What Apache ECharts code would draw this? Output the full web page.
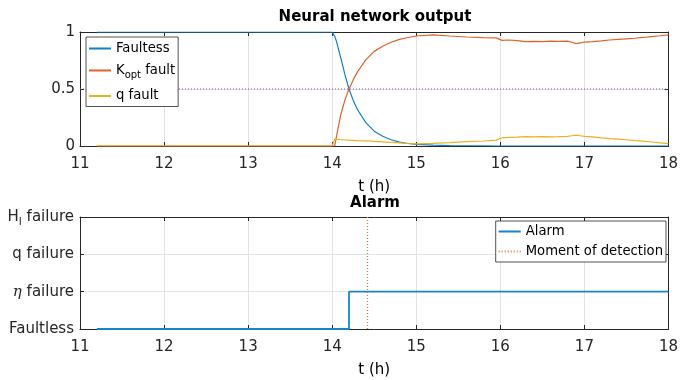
<!DOCTYPE html>
<html>
<head>
<meta charset="utf-8">
<script src="https://cdn.jsdelivr.net/npm/echarts@6/dist/echarts.min.js"></script>
<style>
  html, body { margin: 0; padding: 0; background: #fff; }
  #chart { width: 681px; height: 380px; }
</style>
</head>
<body>
<div id="chart"></div>
<script>
  // neural network outputs
  const nnTime = [11.2, 14.0, 14.03, 14.05, 14.1, 14.15, 14.2, 14.25, 14.3, 14.4,
    14.5, 14.6, 14.7, 14.8, 14.9, 15.0, 15.2, 15.4, 15.6, 15.8,
    15.95, 16.02, 16.1, 16.2, 16.3, 16.4, 16.5, 16.6, 16.7, 16.8,
    16.85, 16.9, 16.95, 17.0, 17.1, 17.2, 17.3, 17.4, 17.5, 17.6,
    17.7, 17.8, 17.9, 18.0];
  const faultless = [1, 1, 0.96, 0.92, 0.78, 0.63, 0.5, 0.4, 0.32, 0.205,
    0.13, 0.085, 0.055, 0.034, 0.022, 0.015, 0.007, 0.004, 0.002, 0.001,
    0, 0, 0, 0, 0, 0, 0, 0, 0, 0,
    0, 0, 0, 0, 0, 0, 0, 0, 0, 0,
    0, 0, 0, 0];
  const kOptFault = [0, 0, 0, 0.08, 0.27, 0.4, 0.5, 0.58, 0.65, 0.755,
    0.83, 0.875, 0.91, 0.935, 0.952, 0.965, 0.975, 0.965, 0.956, 0.95,
    0.948, 0.927, 0.93, 0.925, 0.915, 0.918, 0.915, 0.92, 0.918, 0.92,
    0.91, 0.898, 0.905, 0.912, 0.915, 0.922, 0.93, 0.935, 0.94, 0.945,
    0.952, 0.96, 0.967, 0.975];
  const qFault = [0, 0, 0.06, 0.058, 0.055, 0.053, 0.052, 0.05, 0.048, 0.045,
    0.04, 0.036, 0.032, 0.027, 0.022, 0.018, 0.023, 0.03, 0.038, 0.044,
    0.052, 0.072, 0.075, 0.078, 0.082, 0.08, 0.083, 0.08, 0.082, 0.085,
    0.09, 0.095, 0.09, 0.085, 0.08, 0.072, 0.065, 0.06, 0.055, 0.048,
    0.042, 0.035, 0.028, 0.02];
  const threshold = 0.5;

  // alarm panel
  const alarmTime = [11.2, 14.2, 18];
  const alarmLevel = [0, 1, 1];
  const detectionTime = 14.42;
  const alarmLabels = ['Faultless', '{eta|η}{t| failure}', 'q failure', '{t|H}{sub|l}{t| failure}'];

  const FONT = 'DejaVu Sans';
  const AXIS = '#262626';
  const GRIDC = '#e3e3e3';
  const LEG = 13.2;

  const pairs = (xs, ys) => xs.map((x, i) => [x, ys[i]]);

  function xAx(gridIndex, isMain) {
    return {
      type: 'value', gridIndex, min: 11, max: 18, interval: 1,
      position: isMain ? 'bottom' : 'top',
      name: isMain ? 't (h)' : '', nameLocation: 'middle', nameGap: 34,
      nameTextStyle: { fontFamily: FONT, fontSize: 15, color: '#000' },
      axisLine: { show: true, onZero: false, lineStyle: { color: AXIS, width: 1 } },
      axisTick: { show: true, inside: true, length: 4, lineStyle: { color: AXIS } },
      axisLabel: { show: isMain, margin: 11, fontFamily: FONT, fontSize: 15, color: AXIS },
      splitLine: { show: isMain, lineStyle: { color: GRIDC, width: 1 } }
    };
  }

  function yAx(gridIndex, isMain, extra) {
    return Object.assign({
      type: 'value', gridIndex,
      position: isMain ? 'left' : 'right',
      axisLine: { show: true, onZero: false, lineStyle: { color: AXIS, width: 1 } },
      axisTick: { show: true, inside: true, length: 4, lineStyle: { color: AXIS } },
      axisLabel: { show: isMain, margin: 5, fontFamily: FONT, fontSize: 15, color: AXIS },
      splitLine: { show: isMain, lineStyle: { color: GRIDC, width: 1 } }
    }, extra);
  }

  const chart = echarts.init(document.getElementById('chart'), null, { renderer: 'canvas' });

  const option = {
    animation: false,
    backgroundColor: '#fff',
    title: [
      {
        text: 'Neural network output', left: 375, top: 10, textAlign: 'center', padding: 0,
        textStyle: { fontFamily: FONT, fontSize: 15, fontWeight: 'bold', color: '#000' }
      },
      {
        text: 'Alarm', left: 375, top: 196, textAlign: 'center', padding: 0,
        textStyle: { fontFamily: FONT, fontSize: 15, fontWeight: 'bold', color: '#000' }
      }
    ],
    grid: [
      { left: 80, right: 10, top: 32, height: 114 },
      { left: 80, right: 10, top: 217, height: 112 }
    ],
    legend: [
      {
        orient: 'vertical', left: 86, top: 37,
        data: ['Faultess', 'Kopt fault', 'q fault'],
        backgroundColor: '#fff', borderColor: AXIS, borderWidth: 0.8,
        padding: [5, 3, 4, 2], itemWidth: 22, itemHeight: 14, itemGap: 9,
        itemStyle: { opacity: 0 },
        formatter: n => n === 'Kopt fault' ? '{t|K}{sub|opt}{t| fault}' : n,
        textStyle: {
          fontFamily: FONT, fontSize: LEG, color: '#000',
          rich: {
            t: { fontFamily: FONT, fontSize: LEG, color: '#000' },
            sub: { fontFamily: FONT, fontSize: 10, color: '#000', padding: [10, 0, 0, 0] }
          }
        }
      },
      {
        orient: 'vertical', right: 15, top: 221,
        data: ['Alarm', 'Moment of detection'],
        backgroundColor: '#fff', borderColor: AXIS, borderWidth: 0.8,
        padding: [4, 3, 4, 2], itemWidth: 22, itemHeight: 14, itemGap: 7,
        itemStyle: { opacity: 0 },
        textStyle: { fontFamily: FONT, fontSize: LEG, color: '#000' }
      }
    ],
    xAxis: [xAx(0, true), xAx(1, true), xAx(0, false), xAx(1, false)],
    yAxis: [
      yAx(0, true, { min: 0, max: 1, interval: 0.5 }),
      yAx(1, true, {
        min: 0, max: 3, interval: 1,
        axisLabel: {
          show: true, margin: 6, fontFamily: FONT, fontSize: 15, color: AXIS,
          formatter: v => alarmLabels[v],
          rich: {
            t: { fontFamily: FONT, fontSize: 15, color: AXIS },
            eta: { fontFamily: 'DejaVu Serif', fontStyle: 'italic', fontSize: 15, color: AXIS },
            sub: { fontFamily: FONT, fontSize: 11, color: AXIS, padding: [11, 0, 0, 0] }
          }
        }
      }),
      yAx(0, false, { min: 0, max: 1, interval: 0.5 }),
      yAx(1, false, { min: 0, max: 3, interval: 1 })
    ],
    series: [
      {
        name: 'threshold', type: 'line', xAxisIndex: 0, yAxisIndex: 0,
        data: [[11, threshold], [18, threshold]], symbol: 'none', silent: true,
        lineStyle: { color: '#8E4A9E', width: 1, type: [1, 2] }
      },
      {
        name: 'Faultess', type: 'line', xAxisIndex: 0, yAxisIndex: 0,
        data: pairs(nnTime, faultless), symbol: 'none',
        itemStyle: { color: '#0C80C8' },
        lineStyle: { color: '#0C80C8', width: 1.2 }
      },
      {
        name: 'Kopt fault', type: 'line', xAxisIndex: 0, yAxisIndex: 0,
        data: pairs(nnTime, kOptFault), symbol: 'none',
        itemStyle: { color: '#E0622A' },
        lineStyle: { color: '#E0622A', width: 1.2 }
      },
      {
        name: 'q fault', type: 'line', xAxisIndex: 0, yAxisIndex: 0,
        data: pairs(nnTime, qFault), symbol: 'none',
        itemStyle: { color: '#EDB120' },
        lineStyle: { color: '#EDB120', width: 1.2 }
      },
      {
        name: 'Alarm', type: 'line', xAxisIndex: 1, yAxisIndex: 1,
        data: pairs(alarmTime, alarmLevel), step: 'end', symbol: 'none',
        itemStyle: { color: '#1585CC' },
        lineStyle: { color: '#1585CC', width: 1.8 }
      },
      {
        name: 'Moment of detection', type: 'line', xAxisIndex: 1, yAxisIndex: 1,
        data: [[detectionTime, 0], [detectionTime, 3]], symbol: 'none',
        itemStyle: { color: '#E8733F' },
        lineStyle: { color: '#E8733F', width: 1.3, type: [1, 2] }
      }
    ]
  };

  chart.setOption(option);
</script>
</body>
</html>
